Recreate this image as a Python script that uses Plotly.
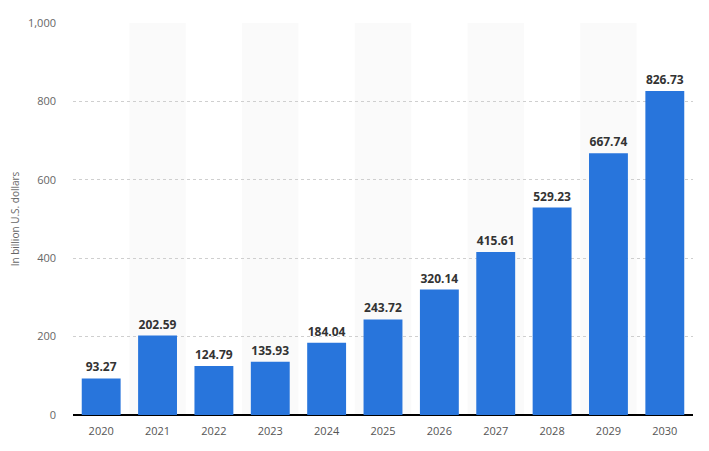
import plotly.graph_objects as go

years = ["2020", "2021", "2022", "2023", "2024", "2025", "2026", "2027", "2028", "2029", "2030"]
values = [93.27, 202.59, 124.79, 135.93, 184.04, 243.72, 320.14, 415.61, 529.23, 667.74, 826.73]
y_ticks = [0, 200, 400, 600, 800, 1000]
y_tick_labels = ["0", "200", "400", "600", "800", "1,000"]
y_title = "In billion U.S. dollars"

fig = go.Figure()

fig.add_trace(go.Bar(
    x=years, y=values,
    marker=dict(color="#2875dc", line=dict(width=0)),
    text=[f"{v:.2f}" for v in values],
    textposition="outside",
    textfont=dict(family="Open Sans, sans-serif", size=12, color="#333333"),
    texttemplate="<b>%{text}</b>",
    cliponaxis=False,
    hoverinfo="skip",
))

shapes = []
for i, yr in enumerate(years):
    if i % 2 == 1:
        shapes.append(dict(type="rect", xref="x", yref="y", x0=i - 0.5, x1=i + 0.5,
                           y0=0, y1=y_ticks[-1], fillcolor="#fafafa", line=dict(width=0),
                           layer="below"))

fig.update_layout(
    width=709, height=451,
    margin=dict(l=65, r=24, t=15, b=44),
    paper_bgcolor="white", plot_bgcolor="white",
    bargap=0.31,
    showlegend=False,
    shapes=shapes,
    font=dict(family="Open Sans, sans-serif", color="#666666", size=11),
    xaxis=dict(
        type="category", showgrid=False, ticks="", tickfont=dict(size=11, color="#555555"),
        showline=False, zeroline=False, automargin=False, ticklabelstandoff=8,
    ),
    yaxis=dict(
        range=[0, 1000], tickvals=y_ticks, ticktext=y_tick_labels,
        showgrid=True, gridcolor="#cfcfcf", griddash="dot", gridwidth=1,
        zeroline=True, zerolinecolor="#000000", zerolinewidth=1.5,
        ticks="", ticklabelstandoff=16, tickfont=dict(size=11, color="#666666"),
        automargin=False,
        title=dict(text=y_title, font=dict(size=10, color="#666666"), standoff=14),
    ),
)

fig.write_html("out.html")
